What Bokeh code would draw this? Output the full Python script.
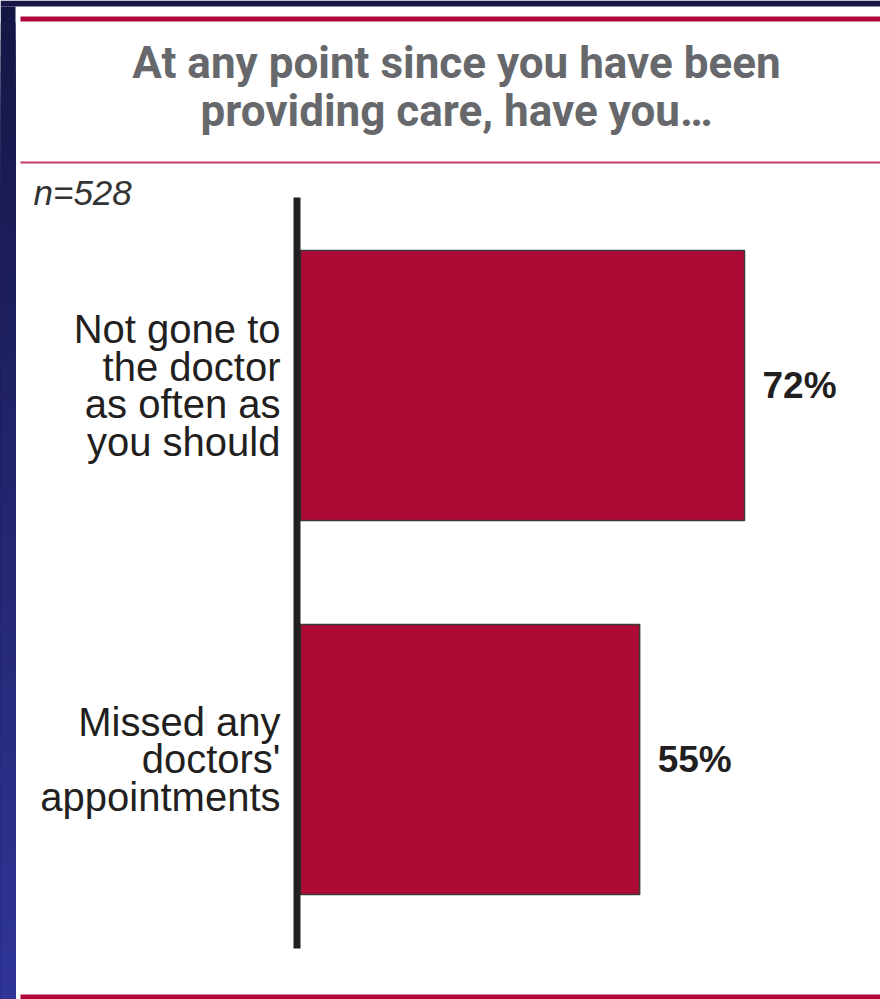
from bokeh.plotting import figure
from bokeh.models import Range1d, ColumnDataSource
from bokeh.core.properties import value
from bokeh.embed import file_html
from bokeh.resources import INLINE

# ---- data ----
categories = ["Not gone to\nthe doctor\nas often as\nyou should",
              "Missed any\ndoctors'\nappointments"]
percents = [72, 55]
value_labels = ["72%", "55%"]
cat_pos = [1, 0]
title_lines = ["At any point since you have been", "providing care, have you\u2026"]
note = "n=528"

W, H = 880, 999
# pixel layout helpers (decoration only)
X0PX, KX = 300.0, (744.0 - 300.0) / 72.0
Y1PX, KY = 385.0, 759.0 - 385.0


def dx(px):
    return (px - X0PX) / KX


def dy(py):
    return 1.0 + (Y1PX - py) / KY


p = figure(width=W, height=H, output_backend="svg", toolbar_location=None,
           x_range=Range1d(dx(0), dx(W)), y_range=Range1d(dy(H), dy(0)),
           min_border=0, min_border_left=0, min_border_right=0,
           min_border_top=0, min_border_bottom=0)
p.axis.visible = False
p.grid.visible = False
p.outline_line_color = None
p.background_fill_color = "white"
p.border_fill_color = "white"

# dark top band
p.quad(left=dx(0), right=dx(W), top=dy(0), bottom=dy(6), fill_color="#161646", line_color=None)
# left gradient strip (each band runs to the bottom so no seams)
n = 60
c0 = (0x16, 0x16, 0x46)
c1 = (0x2F, 0x35, 0x96)
for i in range(n):
    t = i / (n - 1)
    col = "#%02x%02x%02x" % tuple(int(round(a + (b - a) * t)) for a, b in zip(c0, c1))
    y_top = 6 + (H - 6) * i / n
    p.quad(left=dx(0), right=dx(15), top=dy(y_top), bottom=dy(H), fill_color=col, line_color=None)

# red rules
p.quad(left=dx(20), right=dx(W), top=dy(16), bottom=dy(21), fill_color="#B0063A", line_color=None)
p.quad(left=dx(20), right=dx(W), top=dy(161), bottom=dy(163), fill_color="#C63D62", line_color=None)
p.quad(left=dx(20), right=dx(W), top=dy(994), bottom=dy(999), fill_color="#B0063A", line_color=None)

# title
p.text(x=[dx(456)] * 2, y=[dy(62), dy(110)], text=title_lines,
       text_font=value("Roboto"),
       text_font_style="bold",
       text_font_size="44px", text_color="#66686B", text_align="center",
       text_baseline="alphabetic")

# n note
p.text(x=[dx(33)], y=[dy(192)], text=[note], text_font=value("Liberation Sans"),
       text_font_style="italic", text_font_size="35px", text_color="#333333",
       text_align="left", text_baseline="alphabetic")

# bars
src = ColumnDataSource(dict(y=cat_pos, right=percents, cat=categories, lab=value_labels))
p.hbar(y="y", left=0, right="right", height=270.0 / KY, source=src,
       fill_color="#AE0A36", line_color="#3a3a3a", line_width=1.5)

# axis line
p.quad(left=dx(293), right=dx(300), top=dy(197), bottom=dy(948), fill_color="#231F20", line_color=None)

# category labels
p.text(x=dx(280), y="y", text="cat", source=src, text_font=value("Liberation Sans"),
       text_font_size="40px", text_color="#231F20", text_align="right",
       text_baseline="middle", text_line_height=0.85)

# value labels
p.text(x="right", y="y", text="lab", source=src, x_offset=18,
       text_font=value("Liberation Sans"), text_font_style="bold",
       text_font_size="37px", text_color="#231F20", text_align="left",
       text_baseline="middle")

open("out.html", "w").write(file_html(p, INLINE))
